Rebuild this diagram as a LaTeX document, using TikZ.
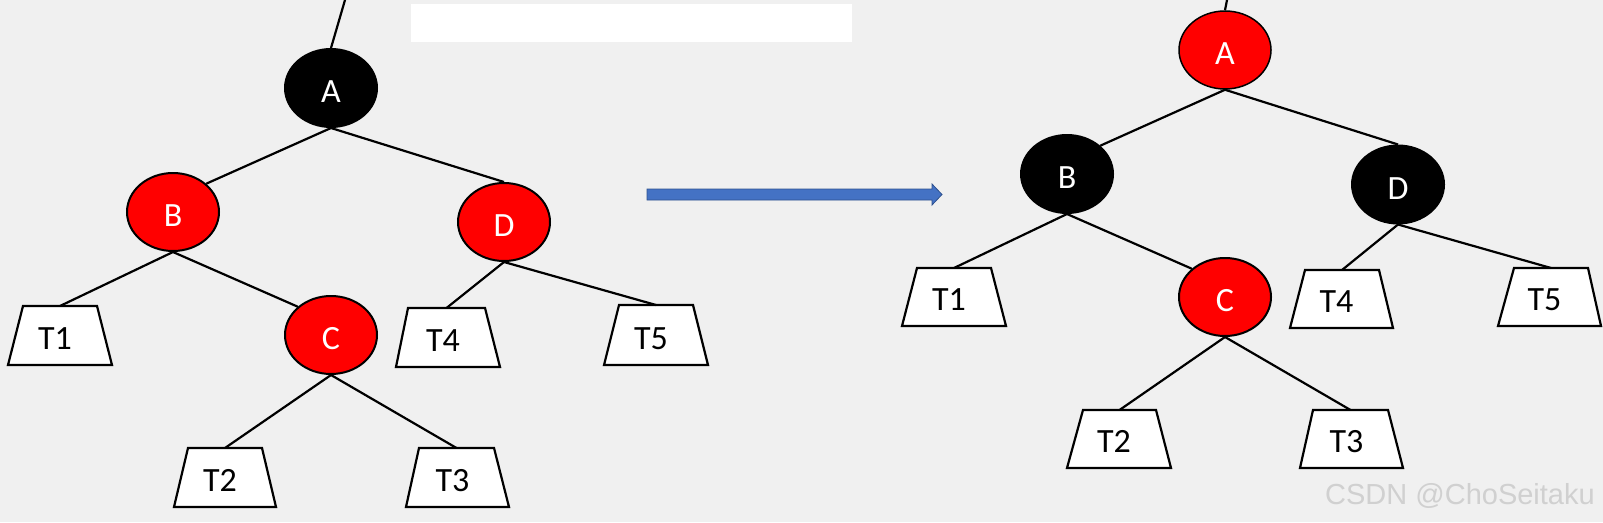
\documentclass[tikz,border=0pt]{standalone}
\usepackage{fontspec}
\setmainfont{Carlito}
\newfontfamily\wmfont{Liberation Sans}
\usetikzlibrary{shapes.geometric}
\definecolor{bg}{HTML}{F0F0F0}
\definecolor{rbred}{HTML}{FF0000}
\definecolor{arrfill}{HTML}{4472C4}
\definecolor{arrdraw}{HTML}{2F528F}
\definecolor{wmgray}{HTML}{D0D0D0}
% #1 name, #2 label, #3 top-left x, #4 top-right x, #5 bottom-left x, #6 bottom-right x, #7 top y, #8 bottom y
\newcommand\tbox[8]{%
  \draw[trapline] (#5,#8) -- (#3,#7) -- (#4,#7) -- (#6,#8) -- cycle;
  \node[tlabel] (#1) at ({(#5+#6)/2-5},{#8-16}) {#2};
  \coordinate (#1-top) at ({(#3+#4)/2},#7);
}
\tikzset{
  rb/.style={ellipse, draw=black, line width=2pt, minimum width=92pt, minimum height=78pt,
    inner sep=0pt, text=white, font=\fontsize{34}{34}\selectfont, text height=29pt, text depth=0pt},
  redn/.style={rb, fill=rbred},
  blackn/.style={rb, fill=black},
  conn/.style={line width=2.2pt, black},
  trapline/.style={draw=black, fill=white, line width=2.2pt, line join=miter},
  tlabel/.style={anchor=base, inner sep=0pt, font=\fontsize{34}{34}\selectfont, text=black},
}
\begin{document}
\begin{tikzpicture}[x=1pt, y=-1pt]
\fill[bg] (0,0) rectangle (1603,522);
\useasboundingbox (0,0) rectangle (1603,522);
\fill[white] (411,4) rectangle (852,42);

% ---------- left tree ----------
\coordinate (ltop) at (345,0);
\node[blackn] (lA) at (331,88) {A};
\node[redn] (lB) at (173,212) {B};
\node[redn] (lD) at (504,222) {D};
\node[redn] (lC) at (331,335) {C};
\tbox{lT1}{T1}{23}{97}{8}{112}{306}{365}
\tbox{lT4}{T4}{408}{485}{396}{500}{308}{367}
\tbox{lT5}{T5}{619}{693}{604}{708}{305}{365}
\tbox{lT2}{T2}{188}{262}{174}{276}{448}{507}
\tbox{lT3}{T3}{419}{494}{406}{509}{448}{507}
\draw[conn] (ltop) -- (lA.north);
\draw[conn] (lA.south) -- (lB.north east);
\draw[conn] (lA.south) -- (lD.north);
\draw[conn] (lB.south) -- (lT1-top);
\draw[conn] (lB.south) -- (lC.north west);
\draw[conn] (lC.south) -- (lT2-top);
\draw[conn] (lC.south) -- (lT3-top);
\draw[conn] (lD.south) -- (lT4-top);
\draw[conn] (lD.south) -- (lT5-top);

% ---------- arrow ----------
\draw[fill=arrfill, draw=arrdraw, line width=0.8pt, line join=miter]
  (647,189) -- (932,189) -- (932,184) -- (942,194.5) -- (932,205) -- (932,200) -- (647,200) -- cycle;

% ---------- right tree ----------
\coordinate (rtop) at (1227,0);
\node[redn, line width=1.5pt] (rA) at (1225,50) {A};
\node[blackn] (rB) at (1067,174) {B};
\node[blackn] (rD) at (1398,184.5) {D};
\node[redn] (rC) at (1225,297) {C};
\tbox{rT1}{T1}{917}{991}{902}{1006}{268}{326}
\tbox{rT4}{T4}{1305}{1379}{1290}{1393}{270}{328}
\tbox{rT5}{T5}{1514}{1588}{1498}{1601}{268}{326}
\tbox{rT2}{T2}{1083}{1156}{1067}{1171}{410}{468}
\tbox{rT3}{T3}{1313}{1388}{1300}{1403}{410}{468}
\draw[conn] (rtop) -- (rA.north);
\draw[conn] (rA.south) -- (rB.north east);
\draw[conn] (rA.south) -- (rD.north);
\draw[conn] (rB.south) -- (rT1-top);
\draw[conn] (rB.south) -- (rC.north west);
\draw[conn] (rC.south) -- (rT2-top);
\draw[conn] (rC.south) -- (rT3-top);
\draw[conn] (rD.south) -- (rT4-top);
\draw[conn] (rD.south) -- (rT5-top);

% ---------- watermark ----------
\node[font=\wmfont\fontsize{29}{29}\selectfont, text=wmgray, anchor=base west, inner sep=0pt] (wm) at (1325,504) {CSDN @ChoSeitaku};
\end{tikzpicture}
\end{document}
